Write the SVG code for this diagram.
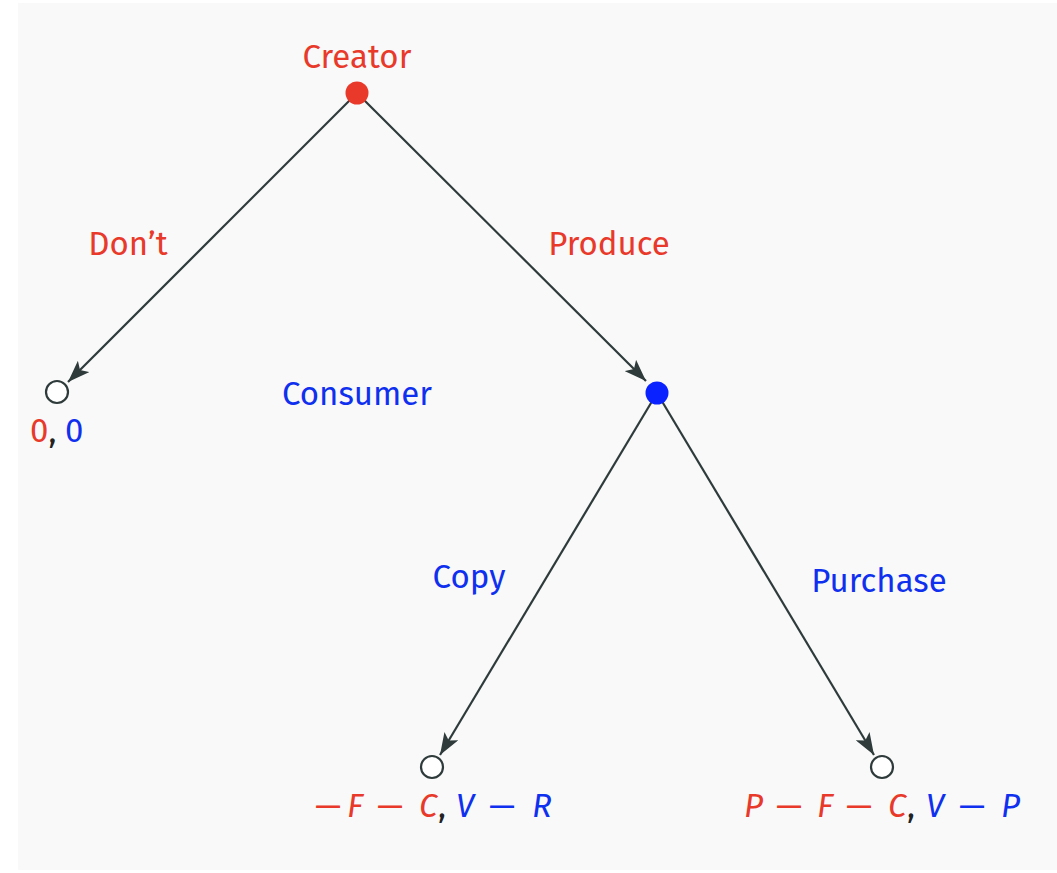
<svg xmlns="http://www.w3.org/2000/svg" width="1057" height="873" viewBox="0 0 1057 873">
<defs>
<style>
.t{font-family:"Fira Sans","Open Sans","Noto Sans",sans-serif;font-size:33px}
.r{fill:#e8392a}.b{fill:#1030f0}.k{fill:#222}
.i{font-style:italic}
.edge{stroke:#2f3b3b;stroke-width:2.2;fill:none;marker-end:url(#ah)}
.leaf{fill:#fff;stroke:#2f3b3b;stroke-width:2.2}
</style>
<marker id="ah" viewBox="0 0 22 16" refX="22" refY="8" markerWidth="22" markerHeight="16" markerUnits="userSpaceOnUse" orient="auto">
<path d="M0,0 L22,8 L0,16 L5,8 Z" fill="#2f3b3b"/>
</marker>
</defs>
<rect x="18" y="3" width="1039" height="867" fill="#f9f9f9"/>
<g id="connectors">
<line class="edge" x1="357" y1="93" x2="68" y2="382"/>
<line class="edge" x1="357" y1="93" x2="646" y2="381"/>
<line class="edge" x1="657" y1="393" x2="440" y2="755"/>
<line class="edge" x1="657" y1="393" x2="874" y2="755"/>
</g>
<g id="creator"><circle cx="357" cy="93" r="11.5" fill="#e8392a"/><text class="t r" x="357" y="68" text-anchor="middle">Creator</text></g>
<g id="consumer"><circle cx="657" cy="393" r="11.5" fill="#0a22ff"/><text class="t b" x="357" y="405" text-anchor="middle">Consumer</text></g>
<g id="leaf-dont"><circle class="leaf" cx="57" cy="392" r="11"/><text class="t" x="30" y="442"><tspan class="r">0</tspan><tspan class="k">, </tspan><tspan class="b">0</tspan></text></g>
<g id="leaf-copy"><circle class="leaf" cx="432" cy="767" r="11"/><text class="t" y="817"><tspan class="r" x="315">—</tspan><tspan class="r i" x="347">F</tspan><tspan class="r" x="377">—</tspan><tspan class="r i" x="419">C</tspan><tspan class="k" x="438">,</tspan><tspan class="b i" x="456">V</tspan><tspan class="b" x="489">—</tspan><tspan class="b i" x="532">R</tspan></text></g>
<g id="leaf-purchase"><circle class="leaf" cx="882" cy="767" r="11"/><text class="t" y="817"><tspan class="r i" x="744">P</tspan><tspan class="r" x="776">—</tspan><tspan class="r i" x="817">F</tspan><tspan class="r" x="846">—</tspan><tspan class="r i" x="888">C</tspan><tspan class="k" x="907">,</tspan><tspan class="b i" x="926">V</tspan><tspan class="b" x="959">—</tspan><tspan class="b i" x="1001">P</tspan></text></g>
<g id="edge-labels">
<text class="t r" x="128" y="255" text-anchor="middle">Don’t</text>
<text class="t r" x="609" y="255" text-anchor="middle">Produce</text>
<text class="t b" x="469" y="588" text-anchor="middle">Copy</text>
<text class="t b" x="879" y="592" text-anchor="middle">Purchase</text>
</g>
</svg>
